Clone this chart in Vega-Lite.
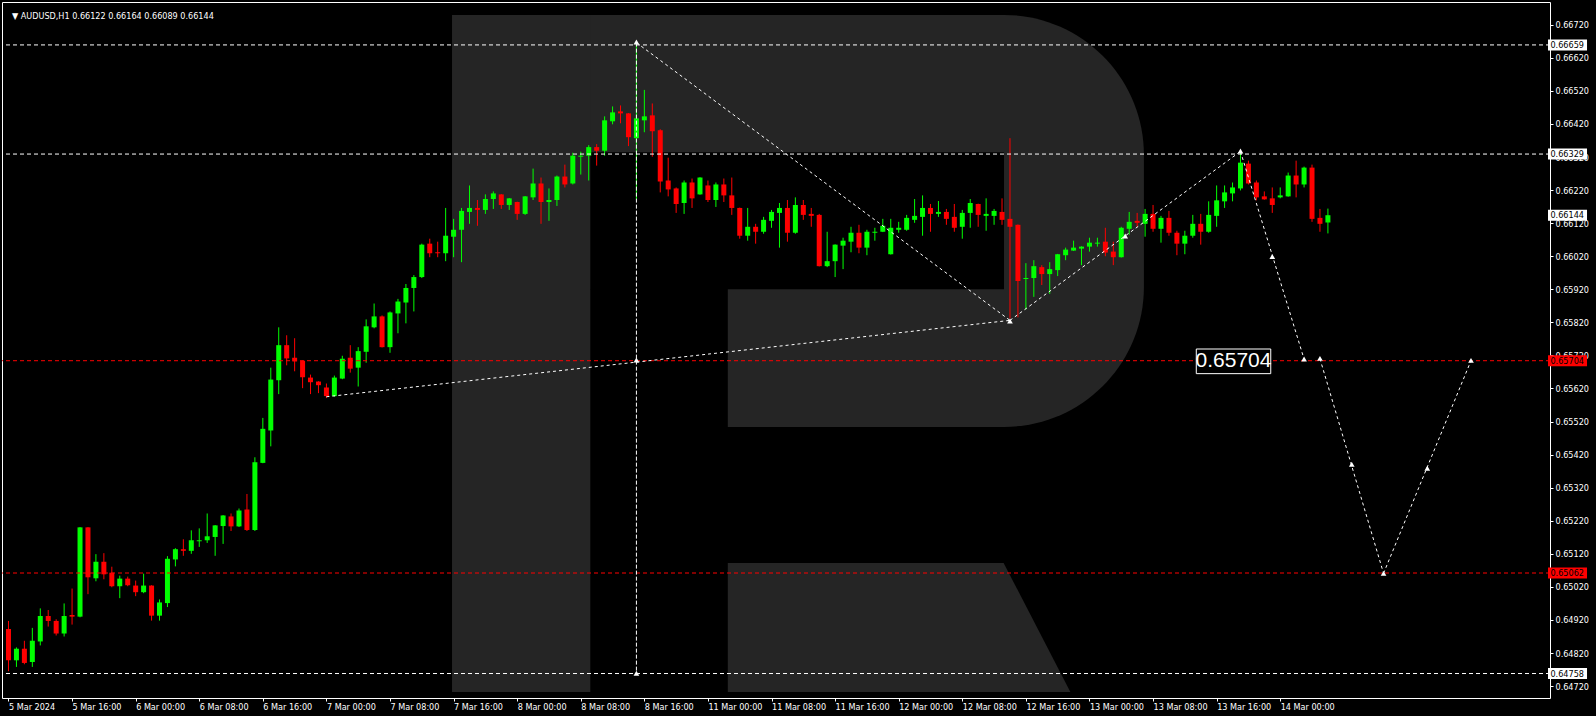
{
  "$schema": "https://vega.github.io/schema/vega-lite/v6.json",
  "width": 1548,
  "height": 696,
  "autosize": "none",
  "padding": {"left": 2, "top": 2, "right": 46, "bottom": 18},
  "background": "#000000",
  "config": {
    "view": {"stroke": "#ffffff", "strokeWidth": 1},
    "font": "DejaVu Sans Condensed, Liberation Sans",
    "axis": {"labelFont": "DejaVu Sans Condensed, Liberation Sans", "labelFontSize": 9, "labelColor": "#ffffff", "tickColor": "#ffffff", "domain": false, "grid": false, "title": null}
  },
  "resolve": {"axis": {"x": "independent", "y": "independent"}},
  "datasets": {
    "candles": [
      {"i":0,"o":0.64893,"h":0.64917,"l":0.64765,"c":0.64798},
      {"i":1,"o":0.64798,"h":0.64837,"l":0.64778,"c":0.64833},
      {"i":2,"o":0.64833,"h":0.64857,"l":0.64786,"c":0.64790},
      {"i":3,"o":0.64793,"h":0.64896,"l":0.64778,"c":0.64857},
      {"i":4,"o":0.64855,"h":0.64955,"l":0.64843,"c":0.64932},
      {"i":5,"o":0.64932,"h":0.64950,"l":0.64900,"c":0.64917},
      {"i":6,"o":0.64917,"h":0.64922,"l":0.64873,"c":0.64879},
      {"i":7,"o":0.64879,"h":0.64970,"l":0.64870,"c":0.64932},
      {"i":8,"o":0.64935,"h":0.65015,"l":0.64906,"c":0.64930},
      {"i":9,"o":0.64930,"h":0.65201,"l":0.64928,"c":0.65200},
      {"i":10,"o":0.65200,"h":0.65201,"l":0.64998,"c":0.65049},
      {"i":11,"o":0.65046,"h":0.65119,"l":0.65037,"c":0.65096},
      {"i":12,"o":0.65096,"h":0.65122,"l":0.65043,"c":0.65058},
      {"i":13,"o":0.65063,"h":0.65081,"l":0.65019,"c":0.65022},
      {"i":14,"o":0.65022,"h":0.65054,"l":0.64986,"c":0.65045},
      {"i":15,"o":0.65045,"h":0.65051,"l":0.65022,"c":0.65025},
      {"i":16,"o":0.65024,"h":0.65039,"l":0.64992,"c":0.65004},
      {"i":17,"o":0.65004,"h":0.65060,"l":0.65001,"c":0.65024},
      {"i":18,"o":0.65024,"h":0.65025,"l":0.64918,"c":0.64933},
      {"i":19,"o":0.64933,"h":0.64982,"l":0.64918,"c":0.64973},
      {"i":20,"o":0.64971,"h":0.65113,"l":0.64959,"c":0.65105},
      {"i":21,"o":0.65103,"h":0.65137,"l":0.65082,"c":0.65134},
      {"i":22,"o":0.65134,"h":0.65164,"l":0.65114,"c":0.65129},
      {"i":23,"o":0.65129,"h":0.65191,"l":0.65120,"c":0.65161},
      {"i":24,"o":0.65158,"h":0.65197,"l":0.65141,"c":0.65161},
      {"i":25,"o":0.65161,"h":0.65242,"l":0.65153,"c":0.65173},
      {"i":26,"o":0.65171,"h":0.65207,"l":0.65114,"c":0.65206},
      {"i":27,"o":0.65204,"h":0.65237,"l":0.65150,"c":0.65236},
      {"i":28,"o":0.65233,"h":0.65242,"l":0.65189,"c":0.65203},
      {"i":29,"o":0.65203,"h":0.65257,"l":0.65201,"c":0.65251},
      {"i":30,"o":0.65254,"h":0.65301,"l":0.65189,"c":0.65192},
      {"i":31,"o":0.65192,"h":0.65412,"l":0.65189,"c":0.65397},
      {"i":32,"o":0.65395,"h":0.65531,"l":0.65394,"c":0.65498},
      {"i":33,"o":0.65493,"h":0.65683,"l":0.65445,"c":0.65647},
      {"i":34,"o":0.65645,"h":0.65805,"l":0.65603,"c":0.65751},
      {"i":35,"o":0.65751,"h":0.65781,"l":0.65690,"c":0.65711},
      {"i":36,"o":0.65713,"h":0.65772,"l":0.65672,"c":0.65702},
      {"i":37,"o":0.65704,"h":0.65705,"l":0.65621,"c":0.65654},
      {"i":38,"o":0.65653,"h":0.65662,"l":0.65603,"c":0.65639},
      {"i":39,"o":0.65641,"h":0.65642,"l":0.65606,"c":0.65630},
      {"i":40,"o":0.65623,"h":0.65635,"l":0.65591,"c":0.65597},
      {"i":41,"o":0.65597,"h":0.65659,"l":0.65595,"c":0.65653},
      {"i":42,"o":0.65650,"h":0.65719,"l":0.65648,"c":0.65710},
      {"i":43,"o":0.65713,"h":0.65751,"l":0.65668,"c":0.65680},
      {"i":44,"o":0.65683,"h":0.65745,"l":0.65626,"c":0.65733},
      {"i":45,"o":0.65731,"h":0.65829,"l":0.65698,"c":0.65808},
      {"i":46,"o":0.65805,"h":0.65877,"l":0.65802,"c":0.65838},
      {"i":47,"o":0.65838,"h":0.65841,"l":0.65744,"c":0.65745},
      {"i":48,"o":0.65745,"h":0.65853,"l":0.65728,"c":0.65850},
      {"i":49,"o":0.65847,"h":0.65891,"l":0.65787,"c":0.65883},
      {"i":50,"o":0.65880,"h":0.65936,"l":0.65817,"c":0.65924},
      {"i":51,"o":0.65924,"h":0.65963,"l":0.65853,"c":0.65957},
      {"i":52,"o":0.65957,"h":0.66058,"l":0.65954,"c":0.66055},
      {"i":53,"o":0.66058,"h":0.66073,"l":0.66017,"c":0.66029},
      {"i":54,"o":0.66032,"h":0.66064,"l":0.66017,"c":0.66029},
      {"i":55,"o":0.66029,"h":0.66166,"l":0.66005,"c":0.66082},
      {"i":56,"o":0.66079,"h":0.66133,"l":0.66017,"c":0.66100},
      {"i":57,"o":0.66100,"h":0.66166,"l":0.66002,"c":0.66157},
      {"i":58,"o":0.66154,"h":0.66234,"l":0.66118,"c":0.66166},
      {"i":59,"o":0.66166,"h":0.66190,"l":0.66112,"c":0.66160},
      {"i":60,"o":0.66160,"h":0.66207,"l":0.66148,"c":0.66193},
      {"i":61,"o":0.66193,"h":0.66216,"l":0.66163,"c":0.66210},
      {"i":62,"o":0.66207,"h":0.66208,"l":0.66163,"c":0.66175},
      {"i":63,"o":0.66175,"h":0.66196,"l":0.66160,"c":0.66195},
      {"i":64,"o":0.66184,"h":0.66185,"l":0.66130,"c":0.66148},
      {"i":65,"o":0.66148,"h":0.66202,"l":0.66145,"c":0.66201},
      {"i":66,"o":0.66198,"h":0.66285,"l":0.66190,"c":0.66240},
      {"i":67,"o":0.66240,"h":0.66258,"l":0.66118,"c":0.66184},
      {"i":68,"o":0.66184,"h":0.66225,"l":0.66127,"c":0.66190},
      {"i":69,"o":0.66190,"h":0.66264,"l":0.66172,"c":0.66261},
      {"i":70,"o":0.66261,"h":0.66297,"l":0.66228,"c":0.66237},
      {"i":71,"o":0.66240,"h":0.66333,"l":0.66237,"c":0.66324},
      {"i":72,"o":0.66321,"h":0.66336,"l":0.66267,"c":0.66324},
      {"i":73,"o":0.66324,"h":0.66356,"l":0.66249,"c":0.66350},
      {"i":74,"o":0.66350,"h":0.66359,"l":0.66294,"c":0.66339},
      {"i":75,"o":0.66339,"h":0.66443,"l":0.66324,"c":0.66431},
      {"i":76,"o":0.66428,"h":0.66473,"l":0.66419,"c":0.66455},
      {"i":77,"o":0.66458,"h":0.66476,"l":0.66422,"c":0.66452},
      {"i":78,"o":0.66452,"h":0.66453,"l":0.66353,"c":0.66380},
      {"i":79,"o":0.66377,"h":0.66666,"l":0.66192,"c":0.66437},
      {"i":80,"o":0.66431,"h":0.66523,"l":0.66395,"c":0.66443},
      {"i":81,"o":0.66446,"h":0.66482,"l":0.66321,"c":0.66398},
      {"i":82,"o":0.66401,"h":0.66404,"l":0.66213,"c":0.66246},
      {"i":83,"o":0.66249,"h":0.66318,"l":0.66201,"c":0.66222},
      {"i":84,"o":0.66225,"h":0.66228,"l":0.66151,"c":0.66178},
      {"i":85,"o":0.66181,"h":0.66249,"l":0.66148,"c":0.66243},
      {"i":86,"o":0.66243,"h":0.66255,"l":0.66166,"c":0.66195},
      {"i":87,"o":0.66207,"h":0.66259,"l":0.66206,"c":0.66258},
      {"i":88,"o":0.66234,"h":0.66249,"l":0.66184,"c":0.66190},
      {"i":89,"o":0.66190,"h":0.66243,"l":0.66169,"c":0.66237},
      {"i":90,"o":0.66237,"h":0.66255,"l":0.66184,"c":0.66204},
      {"i":91,"o":0.66204,"h":0.66258,"l":0.66145,"c":0.66166},
      {"i":92,"o":0.66166,"h":0.66167,"l":0.66073,"c":0.66082},
      {"i":93,"o":0.66082,"h":0.66166,"l":0.66067,"c":0.66109},
      {"i":94,"o":0.66109,"h":0.66118,"l":0.66058,"c":0.66094},
      {"i":95,"o":0.66094,"h":0.66139,"l":0.66088,"c":0.66130},
      {"i":96,"o":0.66127,"h":0.66160,"l":0.66106,"c":0.66154},
      {"i":97,"o":0.66151,"h":0.66181,"l":0.66046,"c":0.66166},
      {"i":98,"o":0.66166,"h":0.66190,"l":0.66064,"c":0.66091},
      {"i":99,"o":0.66091,"h":0.66198,"l":0.66088,"c":0.66175},
      {"i":100,"o":0.66175,"h":0.66190,"l":0.66130,"c":0.66145},
      {"i":101,"o":0.66148,"h":0.66166,"l":0.66109,"c":0.66142},
      {"i":102,"o":0.66145,"h":0.66148,"l":0.65989,"c":0.65990},
      {"i":103,"o":0.65990,"h":0.66094,"l":0.65987,"c":0.66005},
      {"i":104,"o":0.66005,"h":0.66056,"l":0.65957,"c":0.66055},
      {"i":105,"o":0.66052,"h":0.66076,"l":0.65981,"c":0.66067},
      {"i":106,"o":0.66064,"h":0.66109,"l":0.66032,"c":0.66091},
      {"i":107,"o":0.66091,"h":0.66115,"l":0.66029,"c":0.66046},
      {"i":108,"o":0.66046,"h":0.66100,"l":0.66023,"c":0.66094},
      {"i":109,"o":0.66091,"h":0.66106,"l":0.66067,"c":0.66094},
      {"i":110,"o":0.66094,"h":0.66133,"l":0.66093,"c":0.66112},
      {"i":111,"o":0.66026,"h":0.66133,"l":0.66025,"c":0.66106},
      {"i":112,"o":0.66100,"h":0.66124,"l":0.66091,"c":0.66106},
      {"i":113,"o":0.66100,"h":0.66145,"l":0.66097,"c":0.66136},
      {"i":114,"o":0.66130,"h":0.66193,"l":0.66121,"c":0.66142},
      {"i":115,"o":0.66139,"h":0.66204,"l":0.66082,"c":0.66166},
      {"i":116,"o":0.66166,"h":0.66178,"l":0.66094,"c":0.66148},
      {"i":117,"o":0.66148,"h":0.66187,"l":0.66139,"c":0.66154},
      {"i":118,"o":0.66154,"h":0.66163,"l":0.66115,"c":0.66133},
      {"i":119,"o":0.66139,"h":0.66178,"l":0.66094,"c":0.66106},
      {"i":120,"o":0.66109,"h":0.66160,"l":0.66073,"c":0.66151},
      {"i":121,"o":0.66151,"h":0.66193,"l":0.66106,"c":0.66181},
      {"i":122,"o":0.66178,"h":0.66179,"l":0.66109,"c":0.66145},
      {"i":123,"o":0.66142,"h":0.66195,"l":0.66097,"c":0.66148},
      {"i":124,"o":0.66142,"h":0.66163,"l":0.66115,"c":0.66157},
      {"i":125,"o":0.66154,"h":0.66195,"l":0.66115,"c":0.66130},
      {"i":126,"o":0.66133,"h":0.66377,"l":0.65832,"c":0.66109},
      {"i":127,"o":0.66115,"h":0.66116,"l":0.65835,"c":0.65945},
      {"i":128,"o":0.65951,"h":0.65999,"l":0.65859,"c":0.65954},
      {"i":129,"o":0.65954,"h":0.66008,"l":0.65897,"c":0.65990},
      {"i":130,"o":0.65987,"h":0.65993,"l":0.65933,"c":0.65966},
      {"i":131,"o":0.65966,"h":0.66002,"l":0.65906,"c":0.65981},
      {"i":132,"o":0.65978,"h":0.66027,"l":0.65960,"c":0.66026},
      {"i":133,"o":0.66023,"h":0.66046,"l":0.66008,"c":0.66040},
      {"i":134,"o":0.66037,"h":0.66067,"l":0.66036,"c":0.66046},
      {"i":135,"o":0.66043,"h":0.66050,"l":0.65993,"c":0.66049},
      {"i":136,"o":0.66049,"h":0.66076,"l":0.66034,"c":0.66061},
      {"i":137,"o":0.66058,"h":0.66076,"l":0.66049,"c":0.66061},
      {"i":138,"o":0.66064,"h":0.66106,"l":0.66020,"c":0.66031},
      {"i":139,"o":0.66034,"h":0.66064,"l":0.65993,"c":0.66017},
      {"i":140,"o":0.66017,"h":0.66109,"l":0.66016,"c":0.66106},
      {"i":141,"o":0.66103,"h":0.66154,"l":0.66085,"c":0.66124},
      {"i":142,"o":0.66127,"h":0.66151,"l":0.66109,"c":0.66121},
      {"i":143,"o":0.66118,"h":0.66163,"l":0.66079,"c":0.66148},
      {"i":144,"o":0.66148,"h":0.66175,"l":0.66094,"c":0.66103},
      {"i":145,"o":0.66103,"h":0.66142,"l":0.66061,"c":0.66136},
      {"i":146,"o":0.66136,"h":0.66157,"l":0.66082,"c":0.66091},
      {"i":147,"o":0.66091,"h":0.66097,"l":0.66023,"c":0.66058},
      {"i":148,"o":0.66058,"h":0.66097,"l":0.66026,"c":0.66082},
      {"i":149,"o":0.66082,"h":0.66145,"l":0.66076,"c":0.66118},
      {"i":150,"o":0.66118,"h":0.66148,"l":0.66055,"c":0.66094},
      {"i":151,"o":0.66094,"h":0.66186,"l":0.66091,"c":0.66145},
      {"i":152,"o":0.66142,"h":0.66234,"l":0.66109,"c":0.66189},
      {"i":153,"o":0.66186,"h":0.66234,"l":0.66166,"c":0.66213},
      {"i":154,"o":0.66210,"h":0.66243,"l":0.66186,"c":0.66228},
      {"i":155,"o":0.66225,"h":0.66338,"l":0.66219,"c":0.66303},
      {"i":156,"o":0.66300,"h":0.66309,"l":0.66237,"c":0.66240},
      {"i":157,"o":0.66243,"h":0.66249,"l":0.66189,"c":0.66198},
      {"i":158,"o":0.66201,"h":0.66216,"l":0.66191,"c":0.66192},
      {"i":159,"o":0.66195,"h":0.66228,"l":0.66151,"c":0.66175},
      {"i":160,"o":0.66198,"h":0.66228,"l":0.66195,"c":0.66204},
      {"i":161,"o":0.66201,"h":0.66273,"l":0.66200,"c":0.66264},
      {"i":162,"o":0.66264,"h":0.66309,"l":0.66198,"c":0.66237},
      {"i":163,"o":0.66237,"h":0.66291,"l":0.66228,"c":0.66288},
      {"i":164,"o":0.66288,"h":0.66297,"l":0.66124,"c":0.66133},
      {"i":165,"o":0.66136,"h":0.66163,"l":0.66094,"c":0.66118},
      {"i":166,"o":0.66122,"h":0.66164,"l":0.66089,"c":0.66144}
    ],
    "logoBowl": [{"i1": 55.8, "i2": 142.85, "p1": 0.667498, "p2": 0.655039}],
    "logoStem": [{"i1": 55.8, "i2": 73.2, "p1": 0.667498, "p2": 0.647021}],
    "logoLeg": [{"p": 0.650926, "il": 90.5, "ir": 125.2}, {"p": 0.647021, "il": 90.5, "ir": 133.6}],
    "logoHoles": [
      {"i1": 73.2, "i2": 125.25, "p1": 0.663346, "p2": 0.659203},
      {"i1": 73.2, "i2": 90.5, "p1": 0.659210, "p2": 0.655039}
    ],
    "levels": [
      {"p": 0.66659, "k": "line"},
      {"p": 0.66329, "k": "line"},
      {"p": 0.65704, "k": "target"},
      {"p": 0.65062, "k": "target"},
      {"p": 0.64758, "k": "line"}
    ],
    "tags": [
      {"p": 0.66659, "k": "line"},
      {"p": 0.66329, "k": "line"},
      {"p": 0.66144, "k": "line"},
      {"p": 0.65704, "k": "target"},
      {"p": 0.65062, "k": "target"},
      {"p": 0.64758, "k": "line"}
    ],
    "header": [{"label": "▼ AUDUSD,H1  0.66122 0.66164 0.66089 0.66144", "i": 0.44, "p": 0.66738}],
    "vertical": [{"i": 79, "p": 0.66666, "p2": 0.64758}],
    "path": [
      {"a": 40, "pa": 0.65595, "b": 126, "pb": 0.65826},
      {"a": 79, "pa": 0.66666, "b": 126, "pb": 0.65826},
      {"a": 126, "pa": 0.65826, "b": 155, "pb": 0.66337},
      {"a": 155, "pa": 0.66337, "b": 163, "pb": 0.65709},
      {"a": 165, "pa": 0.65710, "b": 173, "pb": 0.65061},
      {"a": 173, "pa": 0.65061, "b": 184, "pb": 0.65704}
    ],
    "arrows": [
      {"i": 79, "p": 0.66668},
      {"i": 79, "p": 0.65706},
      {"i": 79, "p": 0.64759},
      {"i": 126, "p": 0.65824},
      {"i": 140.5, "p": 0.66081},
      {"i": 155, "p": 0.66338},
      {"i": 159, "p": 0.66019},
      {"i": 163, "p": 0.65709},
      {"i": 165, "p": 0.65711},
      {"i": 169, "p": 0.65391},
      {"i": 173, "p": 0.65061},
      {"i": 178.5, "p": 0.65379},
      {"i": 184, "p": 0.65705}
    ],
    "note": [{"label": "0.65704", "i1": 149.44, "i2": 158.81, "p1": 0.657394, "p2": 0.656649, "i": 154.12, "p": 0.65702}]
  },
  "layer": [
    {
      "data": {"name": "logoBowl"},
      "mark": {"type": "rect", "fill": "#252525", "cornerRadiusTopRight": 140, "cornerRadiusBottomRight": 140},
      "encoding": {
        "x": {"field": "i1", "type": "quantitative", "scale": {"domain": [-0.1875, 193.3125], "nice": false, "zero": false}, "axis": null},
        "x2": {"field": "i2"},
        "y": {"field": "p1", "type": "quantitative", "scale": {"domain": [0.646991, 0.667737], "nice": false, "zero": false}, "axis": null},
        "y2": {"field": "p2"}
      }
    },
    {
      "data": {"name": "logoStem"},
      "mark": {"type": "rect", "fill": "#252525"},
      "encoding": {
        "x": {"field": "i1", "type": "quantitative", "scale": {"domain": [-0.1875, 193.3125], "nice": false, "zero": false}, "axis": null},
        "x2": {"field": "i2"},
        "y": {"field": "p1", "type": "quantitative", "scale": {"domain": [0.646991, 0.667737], "nice": false, "zero": false}, "axis": null},
        "y2": {"field": "p2"}
      }
    },
    {
      "data": {"name": "logoLeg"},
      "mark": {"type": "area", "orient": "horizontal", "fill": "#252525"},
      "encoding": {
        "y": {"field": "p", "type": "quantitative", "scale": {"domain": [0.646991, 0.667737], "nice": false, "zero": false}, "axis": null},
        "x": {"field": "il", "type": "quantitative", "stack": null, "scale": {"domain": [-0.1875, 193.3125], "nice": false, "zero": false}, "axis": null},
        "x2": {"field": "ir"}
      }
    },
    {
      "data": {"name": "logoHoles"},
      "mark": {"type": "rect", "fill": "#000000"},
      "encoding": {
        "x": {"field": "i1", "type": "quantitative", "scale": {"domain": [-0.1875, 193.3125], "nice": false, "zero": false}, "axis": null},
        "x2": {"field": "i2"},
        "y": {"field": "p1", "type": "quantitative", "scale": {"domain": [0.646991, 0.667737], "nice": false, "zero": false}, "axis": null},
        "y2": {"field": "p2"}
      }
    },
    {
      "data": {"name": "candles"},
      "mark": {"type": "rule", "strokeWidth": 1},
      "encoding": {
        "x": {
          "field": "i", "type": "quantitative",
          "scale": {"domain": [-0.1875, 193.3125], "nice": false, "zero": false},
          "axis": {
            "orient": "bottom",
            "values": [0, 8, 16, 24, 32, 40, 48, 56, 64, 72, 80, 88, 96, 104, 112, 120, 128, 136, 144, 152, 160],
            "labelExpr": "['5 Mar 2024','5 Mar 16:00','6 Mar 00:00','6 Mar 08:00','6 Mar 16:00','7 Mar 00:00','7 Mar 08:00','7 Mar 16:00','8 Mar 00:00','8 Mar 08:00','8 Mar 16:00','11 Mar 00:00','11 Mar 08:00','11 Mar 16:00','12 Mar 00:00','12 Mar 08:00','12 Mar 16:00','13 Mar 00:00','13 Mar 08:00','13 Mar 16:00','14 Mar 00:00'][round(datum.value / 8)]",
            "labelAlign": "left", "labelBaseline": "top", "labelPadding": 1, "tickSize": 3,
            "labelFlush": false, "labelOverlap": false
          }
        },
        "y": {
          "field": "l", "type": "quantitative",
          "scale": {"domain": [0.646991, 0.667737], "nice": false, "zero": false},
          "axis": {
            "orient": "right",
            "values": [0.6472, 0.6482, 0.6492, 0.6502, 0.6512, 0.6522, 0.6532, 0.6542, 0.6552, 0.6562, 0.6572, 0.6582, 0.6592, 0.6602, 0.6612, 0.6622, 0.6632, 0.6642, 0.6652, 0.6662, 0.6672],
            "format": ".5f", "tickSize": 3, "labelPadding": 2, "labelBaseline": "middle", "labelOverlap": false, "labelFlush": false
          }
        },
        "y2": {"field": "h"},
        "color": {"condition": {"test": "datum.c >= datum.o", "value": "#00ff00"}, "value": "#ff0000"}
      }
    },
    {
      "data": {"name": "candles"},
      "mark": {"type": "bar", "width": 5},
      "encoding": {
        "x": {"field": "i", "type": "quantitative", "scale": {"domain": [-0.1875, 193.3125], "nice": false, "zero": false}, "axis": null},
        "y": {"field": "o", "type": "quantitative", "scale": {"domain": [0.646991, 0.667737], "nice": false, "zero": false}, "axis": null},
        "y2": {"field": "c"},
        "color": {"condition": {"test": "datum.c >= datum.o", "value": "#00ff00"}, "value": "#ff0000"}
      }
    },
    {
      "data": {"name": "levels"},
      "mark": {"type": "rule", "strokeWidth": 1, "strokeDash": [4, 3]},
      "encoding": {
        "y": {"field": "p", "type": "quantitative", "scale": {"domain": [0.646991, 0.667737], "nice": false, "zero": false}, "axis": null},
        "color": {"field": "k", "type": "nominal", "scale": {"domain": ["line", "target"], "range": ["#ffffff", "#ff0000"]}, "legend": null}
      }
    },
    {
      "data": {"name": "vertical"},
      "mark": {"type": "rule", "strokeWidth": 1, "strokeDash": [4, 2], "color": "#ffffff"},
      "encoding": {
        "x": {"field": "i", "type": "quantitative", "scale": {"domain": [-0.1875, 193.3125], "nice": false, "zero": false}, "axis": null},
        "y": {"field": "p", "type": "quantitative", "scale": {"domain": [0.646991, 0.667737], "nice": false, "zero": false}, "axis": null},
        "y2": {"field": "p2"}
      }
    },
    {
      "data": {"name": "path"},
      "mark": {"type": "rule", "strokeWidth": 1, "strokeDash": [3, 3], "color": "#ffffff"},
      "encoding": {
        "x": {"field": "a", "type": "quantitative", "scale": {"domain": [-0.1875, 193.3125], "nice": false, "zero": false}, "axis": null},
        "x2": {"field": "b"},
        "y": {"field": "pa", "type": "quantitative", "scale": {"domain": [0.646991, 0.667737], "nice": false, "zero": false}, "axis": null},
        "y2": {"field": "pb"}
      }
    },
    {
      "data": {"name": "arrows"},
      "mark": {"type": "point", "shape": "triangle-up", "filled": true, "size": 32, "color": "#ffffff", "opacity": 1},
      "encoding": {
        "x": {"field": "i", "type": "quantitative", "scale": {"domain": [-0.1875, 193.3125], "nice": false, "zero": false}, "axis": null},
        "y": {"field": "p", "type": "quantitative", "scale": {"domain": [0.646991, 0.667737], "nice": false, "zero": false}, "axis": null}
      }
    },
    {
      "data": {"name": "note"},
      "mark": {"type": "rect", "fill": "#000000", "stroke": "#ffffff", "strokeWidth": 1},
      "encoding": {
        "x": {"field": "i1", "type": "quantitative", "scale": {"domain": [-0.1875, 193.3125], "nice": false, "zero": false}, "axis": null},
        "x2": {"field": "i2"},
        "y": {"field": "p1", "type": "quantitative", "scale": {"domain": [0.646991, 0.667737], "nice": false, "zero": false}, "axis": null},
        "y2": {"field": "p2"}
      }
    },
    {
      "data": {"name": "note"},
      "mark": {"type": "text", "font": "Liberation Sans", "fontSize": 21, "color": "#ffffff", "align": "center", "baseline": "middle"},
      "encoding": {
        "x": {"field": "i", "type": "quantitative", "scale": {"domain": [-0.1875, 193.3125], "nice": false, "zero": false}, "axis": null},
        "y": {"field": "p", "type": "quantitative", "scale": {"domain": [0.646991, 0.667737], "nice": false, "zero": false}, "axis": null},
        "text": {"field": "label"}
      }
    },
    {
      "data": {"name": "header"},
      "mark": {"type": "text", "font": "DejaVu Sans Condensed, Liberation Sans", "fontSize": 9, "color": "#ffffff", "align": "left", "baseline": "alphabetic"},
      "encoding": {
        "x": {"field": "i", "type": "quantitative", "scale": {"domain": [-0.1875, 193.3125], "nice": false, "zero": false}, "axis": null},
        "y": {"field": "p", "type": "quantitative", "scale": {"domain": [0.646991, 0.667737], "nice": false, "zero": false}, "axis": null},
        "text": {"field": "label"}
      }
    },
    {
      "data": {"name": "tags"},
      "mark": {"type": "bar", "orient": "horizontal", "height": 11},
      "encoding": {
        "x": {"datum": 193.69, "type": "quantitative", "scale": {"domain": [-0.1875, 193.3125], "nice": false, "zero": false}, "axis": null},
        "x2": {"datum": 198.6},
        "y": {"field": "p", "type": "quantitative", "scale": {"domain": [0.646991, 0.667737], "nice": false, "zero": false}, "axis": null},
        "color": {"field": "k", "type": "nominal", "scale": {"domain": ["line", "target"], "range": ["#ffffff", "#ff0000"]}, "legend": null}
      }
    },
    {
      "data": {"name": "tags"},
      "mark": {"type": "text", "font": "DejaVu Sans Condensed, Liberation Sans", "fontSize": 9, "color": "#000000", "align": "left", "baseline": "middle"},
      "encoding": {
        "x": {"datum": 194.0, "type": "quantitative", "scale": {"domain": [-0.1875, 193.3125], "nice": false, "zero": false}, "axis": null},
        "y": {"field": "p", "type": "quantitative", "scale": {"domain": [0.646991, 0.667737], "nice": false, "zero": false}, "axis": null},
        "text": {"field": "p", "type": "quantitative", "format": ".5f"}
      }
    }
  ]
}
